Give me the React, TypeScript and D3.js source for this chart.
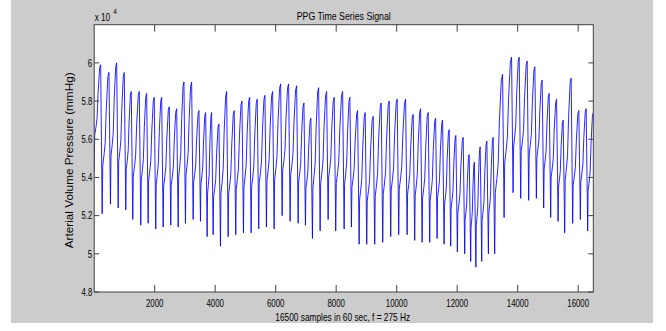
import React from "react";
import * as d3 from "d3";

// ---- data (values in units of 10^4 mmHg) ----
const peakSamples = [
  215, 489, 744, 995, 1226, 1491, 1735, 1986, 2231, 2482, 2727, 2968, 3222, 3464, 3685,
  3883, 4125, 4379, 4630, 4885, 5139, 5390, 5645, 5899, 6164, 6428, 6693, 6934, 7165, 7420, 7684, 7935, 8213,
  8454, 8709, 8960, 9224, 9489, 9753, 10017, 10295, 10546, 10791, 11042, 11287, 11518, 11736, 11957, 12199,
  12397, 12569, 12761, 12982, 13190,
  13501, 13798, 14050, 14314, 14568, 14810, 15041, 15286, 15504, 15768, 16022, 16264,
];
const peakValues = [
  5.99, 5.95, 6.0, 5.95, 5.85, 5.85, 5.84, 5.82, 5.82, 5.77, 5.76, 5.9, 5.9, 5.75, 5.74,
  5.74, 5.68, 5.85, 5.75, 5.8, 5.82, 5.81, 5.83, 5.85, 5.89, 5.89, 5.88, 5.79, 5.71, 5.87, 5.85, 5.82, 5.85,
  5.82, 5.75, 5.74, 5.72, 5.79, 5.8, 5.81, 5.81, 5.73, 5.76, 5.74, 5.71, 5.7, 5.65, 5.62, 5.61,
  5.52, 5.48, 5.56, 5.59, 5.61,
  5.94, 6.03, 6.03, 6.01, 5.98, 5.91, 5.84, 5.81, 5.7, 5.92, 5.75, 5.76,
];
const troughValues = [
  5.21, 5.26, 5.24, 5.23, 5.18, 5.15, 5.16, 5.13, 5.14, 5.15, 5.14, 5.16, 5.18, 5.17, 5.09,
  5.1, 5.04, 5.09, 5.1, 5.11, 5.11, 5.13, 5.14, 5.13, 5.2, 5.17, 5.16, 5.15, 5.08, 5.12, 5.18, 5.12, 5.13,
  5.14, 5.05, 5.05, 5.05, 5.06, 5.09, 5.1, 5.1, 5.07, 5.06, 5.06, 5.08, 5.05, 5.04, 5.01, 5.0,
  4.96, 4.93, 4.96, 5.0, 5.0,
  5.19, 5.32, 5.29, 5.28, 5.29, 5.24, 5.19, 5.17, 5.11, 5.16, 5.18, 5.12,
];
const startValue = 5.43;
const endValue = 5.74;
const totalSamples = 16500;
const dropSamples = 50;
// shape of the upstroke between a trough and the next peak: [phase, level]
const riseShape: [number, number][] = [
  [0, 0], [0.08, 0.34], [0.28, 0.42], [0.44, 0.5], [0.6, 0.74], [0.84, 0.97], [1, 1],
];
const xTicks = [2000, 4000, 6000, 8000, 10000, 12000, 14000, 16000];
const yTicks = [4.8, 5, 5.2, 5.4, 5.6, 5.8, 6];
const yDomain = [4.8, 6.2];

const W = 666;
const H = 331;
const AX = { left: 94.2, right: 593.3, top: 24.7, bottom: 292 };
const FONT = "'Liberation Sans', Arial, sans-serif";

function buildPoints(): [number, number][] {
  const pts: [number, number][] = [];
  const rise = (t0: number, v0: number, t1: number, v1: number, skipFirst: boolean) => {
    riseShape.forEach(([p, l], k) => {
      if (skipFirst && k === 0) return;
      pts.push([t0 + p * (t1 - t0), (v0 + l * (v1 - v0)) * 1e4]);
    });
  };
  rise(1, startValue, peakSamples[0], peakValues[0], false);
  for (let i = 0; i < peakSamples.length; i++) {
    const tTr = peakSamples[i] + dropSamples;
    pts.push([tTr, troughValues[i] * 1e4]);
    if (i + 1 < peakSamples.length) {
      rise(tTr, troughValues[i], peakSamples[i + 1], peakValues[i + 1], true);
    } else {
      rise(tTr, troughValues[i], totalSamples, endValue, true);
    }
  }
  return pts;
}

function T(props: {
  x: number;
  y: number;
  len: number;
  anchor?: string;
  size?: number;
  children: React.ReactNode;
  transform?: string;
}) {
  return (
    <text
      x={props.x}
      y={props.y}
      textAnchor={props.anchor || "start"}
      fontSize={props.size || 10.5}
      fill="#000"
      textLength={props.len}
      lengthAdjust="spacingAndGlyphs"
      transform={props.transform}
    >
      {props.children}
    </text>
  );
}

export default function App() {
  const x = d3.scaleLinear().domain([1, totalSamples]).range([AX.left, AX.right]);
  const y = d3.scaleLinear().domain(yDomain.map((v) => v * 1e4)).range([AX.bottom, AX.top]);
  const line = d3.line<[number, number]>().x((d) => x(d[0])).y((d) => y(d[1]));
  const pts = buildPoints();
  const fmtY = d3.format("~g");
  const cx = (AX.left + AX.right) / 2;
  const cy = (AX.top + AX.bottom) / 2;
  const tickX = 7;
  const tickY = 5;
  const axisColor = "#404040";
  const charW = 4.35;

  return (
    <svg
      width={W}
      height={H}
      style={{ position: "absolute", left: 0, top: 0 }}
      fontFamily={FONT}
    >
      <rect x={0} y={0} width={W} height={H} fill="#ffffff" />
      <rect x={11} y={0} width={642} height={323} fill="#cccccc" />
      <defs>
        <clipPath id="plotclip">
          <rect x={AX.left} y={AX.top} width={AX.right - AX.left} height={AX.bottom - AX.top} />
        </clipPath>
      </defs>
      <rect
        x={AX.left}
        y={AX.top}
        width={AX.right - AX.left}
        height={AX.bottom - AX.top}
        fill="#ffffff"
      />
      <path
        d={line(pts) || ""}
        fill="none"
        stroke="#0000ff"
        strokeWidth={0.85}
        clipPath="url(#plotclip)"
      />
      {/* box */}
      <rect
        x={AX.left}
        y={AX.top}
        width={AX.right - AX.left}
        height={AX.bottom - AX.top}
        fill="none"
        stroke={axisColor}
        strokeWidth={1}
      />
      {/* x ticks */}
      {xTicks.map((t) => (
        <g key={"x" + t}>
          <line x1={x(t)} x2={x(t)} y1={AX.bottom} y2={AX.bottom - tickX} stroke={axisColor} />
          <line x1={x(t)} x2={x(t)} y1={AX.top} y2={AX.top + tickX} stroke={axisColor} />
          <T x={x(t)} y={AX.bottom + 15} anchor="middle" len={String(t).length * charW}>
            {t}
          </T>
        </g>
      ))}
      {/* y ticks */}
      {yTicks.map((t) => {
        const s = fmtY(t);
        const len = s.replace(".", "").length * charW + (s.includes(".") ? 2 : 0);
        return (
          <g key={"y" + t}>
            <line x1={AX.left} x2={AX.left + tickY} y1={y(t * 1e4)} y2={y(t * 1e4)} stroke={axisColor} />
            <line x1={AX.right} x2={AX.right - tickY} y1={y(t * 1e4)} y2={y(t * 1e4)} stroke={axisColor} />
            <T x={AX.left - 2} y={y(t * 1e4) + 3.8} anchor="end" len={len}>
              {s}
            </T>
          </g>
        );
      })}
      {/* exponent */}
      <T x={AX.left + 0.5} y={20.5} len={15.5}>
        x 10
      </T>
      <T x={AX.left + 19} y={14} len={3.6} size={7}>
        4
      </T>
      {/* title */}
      <T x={cx} y={20} anchor="middle" len={94}>
        PPG Time Series Signal
      </T>
      {/* x label */}
      <T x={cx - 1} y={320.5} anchor="middle" len={135}>
        16500 samples in 60 sec, f = 275 Hz
      </T>
      {/* y label */}
      <T
        x={0}
        y={0}
        anchor="middle"
        len={176}
        transform={`translate(${AX.left - 21.5},${cy + 2}) rotate(-90)`}
      >
        Arterial Volume Pressure (mmHg)
      </T>
    </svg>
  );
}
